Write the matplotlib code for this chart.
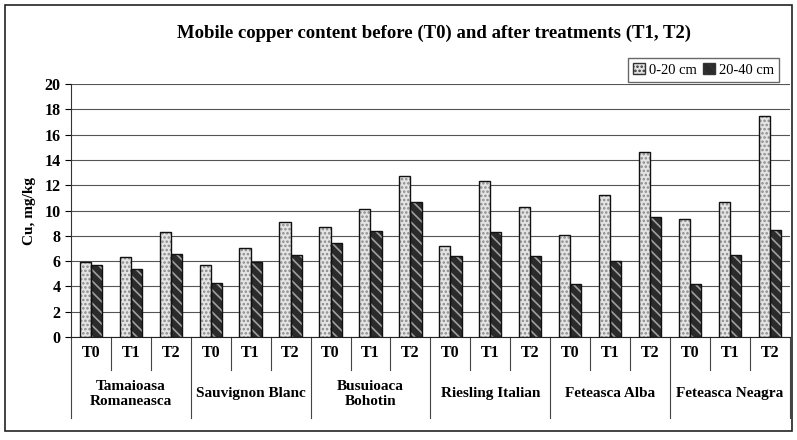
import numpy as np
import matplotlib.pyplot as plt
from matplotlib.patches import Rectangle

varieties = ["Tamaioasa\nRomaneasca", "Sauvignon Blanc", "Busuioaca\nBohotin",
             "Riesling Italian", "Feteasca Alba", "Feteasca Neagra"]
treatments = ["T0", "T1", "T2"]

# Cu, mg/kg
depth_0_20 = [5.9, 6.3, 8.3, 5.7, 7.0, 9.1, 8.7, 10.1, 12.7, 7.2, 12.3, 10.3,
              8.1, 11.2, 14.6, 9.3, 10.7, 17.5]
depth_20_40 = [5.7, 5.4, 6.6, 4.3, 5.9, 6.5, 7.4, 8.4, 10.7, 6.4, 8.3, 6.4,
               4.2, 6.0, 9.5, 4.2, 6.5, 8.5]

plt.rcParams["font.family"] = ["Liberation Serif", "DejaVu Serif"]
plt.rcParams["hatch.linewidth"] = 1.2

fig = plt.figure(figsize=(7.97, 4.4), dpi=100)
ax = fig.add_axes([0.089, 0.234, 0.902, 0.575])

n = len(depth_0_20)
x = np.arange(n)
w = 0.28

# fill + hatch, then black outline on top
ax.bar(x - w / 2, depth_0_20, w, color="#e4e4e4", edgecolor="#8a8a8a",
       hatch="....", linewidth=0, zorder=3)
ax.bar(x + w / 2, depth_20_40, w, color="#2b2b2b", edgecolor="#a0a0a0",
       hatch="\\\\\\", linewidth=0, zorder=3)
ax.bar(x - w / 2, depth_0_20, w, fill=False, edgecolor="#111111", linewidth=1.0, zorder=4)
ax.bar(x + w / 2, depth_20_40, w, fill=False, edgecolor="#111111", linewidth=1.0, zorder=4)

ax.set_xlim(-0.5, n - 0.5)
ax.set_ylim(0, 20)
ax.set_yticks(range(0, 21, 2))
ax.yaxis.grid(True, color="#555555", linewidth=0.8, zorder=0)
ax.tick_params(axis="y", labelsize=11.5, length=4, width=0.8)
for lab in ax.get_yticklabels():
    lab.set_fontweight("bold")
ax.set_xticks([])

for s in ["top", "right"]:
    ax.spines[s].set_visible(False)
ax.spines["left"].set_color("#333333")
ax.spines["bottom"].set_color("#222222")

ax.set_ylabel("Cu, mg/kg", fontsize=11, fontweight="bold", labelpad=6)

# multi-level category axis
trans = ax.get_xaxis_transform()
for i in range(n):
    ax.text(i, -0.063, treatments[i % 3], transform=trans, ha="center", va="center",
            fontsize=11.5, fontweight="bold")
for i in range(n + 1):
    bottom = -0.32 if i % 3 == 0 else -0.13
    ax.plot([i - 0.5, i - 0.5], [0, bottom], transform=trans, color="#444444",
            linewidth=0.8, clip_on=False)
for k, name in enumerate(varieties):
    ax.text(3 * k + 1, -0.225, name, transform=trans, ha="center", va="center",
            fontsize=11, fontweight="bold", linespacing=1.25)

fig.text(0.545, 0.925, "Mobile copper content before (T0) and after treatments (T1, T2)",
         ha="center", va="center", fontsize=13.5, fontweight="bold")

leg_handles = [Rectangle((0, 0), 1, 1, facecolor="#e4e4e4", edgecolor="#333333", hatch="...."),
               Rectangle((0, 0), 1, 1, facecolor="#2b2b2b", edgecolor="#333333", hatch="\\\\\\")]
leg = fig.legend(leg_handles, ["0-20 cm", "20-40 cm"], loc="upper right",
                 bbox_to_anchor=(0.987, 0.885), ncol=2, fontsize=10.5, frameon=True,
                 fancybox=False, edgecolor="#444444", handlelength=0.8, handleheight=0.8,
                 handletextpad=0.3, columnspacing=0.4, borderpad=0.35)

# outer frame
fig.patches.append(Rectangle((0.006, 0.02), 0.988, 0.968, transform=fig.transFigure,
                             fill=False, edgecolor="#222222", linewidth=1.2))

fig.savefig("out.png", dpi=100)
plt.close(fig)
